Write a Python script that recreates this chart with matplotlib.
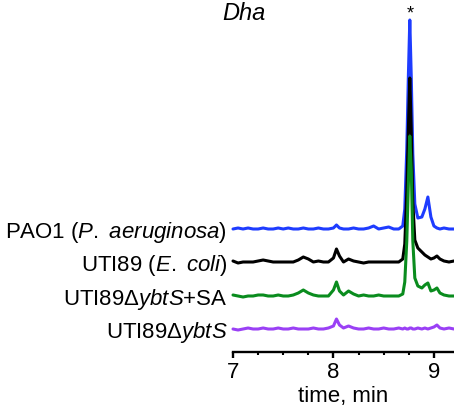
import matplotlib
matplotlib.use("Agg")
import matplotlib.pyplot as plt
from matplotlib.ticker import MultipleLocator

plt.rcParams['font.family'] = ['Liberation Sans', 'DejaVu Sans']
plt.rcParams['mathtext.fontset'] = 'custom'
plt.rcParams['mathtext.rm'] = 'Liberation Sans'
plt.rcParams['mathtext.it'] = 'Liberation Sans:italic'

# retention time (min)
time = [7.00, 7.05, 7.10, 7.15, 7.20, 7.25, 7.30, 7.35, 7.40, 7.45,
        7.50, 7.55, 7.60, 7.65, 7.70, 7.75, 7.80, 7.85, 7.90, 7.95,
        8.00, 8.03, 8.06, 8.10,
        8.15, 8.20, 8.25, 8.30, 8.35, 8.40, 8.45, 8.50, 8.55, 8.60, 8.65,
        8.69, 8.71, 8.73, 8.745, 8.76, 8.775, 8.79, 8.81,
        8.84, 8.88, 8.91, 8.94, 8.97, 9.00, 9.03, 9.06, 9.10, 9.15, 9.20]

# signal intensities (arbitrary units)
pao1 = [0, 1, 0, 1, 0, 0, 1, 0, 0, 1,
        0, 1, 0, 0, 1, 0, 0, 1, 0, 0,
        1, 4, 1, 0,
        0, 1, 0, 0, 1, 3, 0, 1, 2, 0, 0,
        3, 20, 80, 150, 209, 150, 75, 25,
        11, 12, 20, 32, 12, 3, 1, 0, 1, 0, 0]

uti89 = [1, -1, 0, 0, 0, 1, 2, 1, 0, 0,
         0, 0, 0, 2, 5, 3, 0, 1, 0, 0,
         4, 13, 6, 0,
         3, 1, 0, -1, 0, 0, 0, 0, 0, 0, 0,
         3, 18, 70, 130, 184, 130, 60, 22,
         14, 10, 7, 5, 3, 4, 6, 3, 1, 0, 1]

uti89_sa = [1, 0, -1, 0, 0, 1, 1, 0, 0, 1,
            0, 0, 1, 3, 6, 3, 1, 0, 0, 0,
            6, 14, 5, 1,
            5, 2, 0, 1, 0, 0, 1, 0, 0, 0, 0,
            2, 14, 55, 110, 160, 125, 55, 18,
            10, 8, 11, 13, 5, 6, 8, 3, 1, 0, 0]

uti89_ybts = [0, -1, 0, 1, 0, 0, 1, 0, 0, 1,
              0, 0, 1, 0, 0, 0, 1, 0, 0, 1,
              3, 10, 4, 1,
              3, 1, 0, 0, 1, 0, 0, 1, 0, 0, 1,
              0, 1, 0, 0, 1, 1, 0, 0,
              1, 0, 1, 0, 1, 2, 4, 1, 0, 1, 0]

labels = [r"PAO1 ($\mathit{P.}$ $\mathit{aeruginosa}$)",
          r"UTI89 ($\mathit{E.}$ $\mathit{coli}$)",
          r"UTI89$\Delta\mathit{ybtS}$+SA",
          r"UTI89$\Delta\mathit{ybtS}$"]
series = [pao1, uti89, uti89_sa, uti89_ybts]
colors = ["#1e3cff", "#000000", "#0a8c1e", "#9a40f5"]
offsets = [123, 90, 56, 23]

fig = plt.figure(figsize=(4.54, 4.13), dpi=100)
ax = fig.add_axes([233/454, 61/413, 221/454, 352/413])

for ys, c, off in zip(series, colors, offsets):
    ax.plot(time, [v + off for v in ys], color=c, lw=2.2, solid_joinstyle='round',
            solid_capstyle='round', clip_on=False)

ax.set_xlim(7, 9.2)
ax.set_ylim(0, 352)
ax.set_yticks(offsets)
ax.set_yticklabels(labels, fontsize=16)
ax.tick_params(axis='y', length=0, pad=4)

for s in ['top', 'right', 'left']:
    ax.spines[s].set_visible(False)
ax.spines['bottom'].set_linewidth(1.7)
ax.set_xticks([7, 8, 9])
ax.set_xticklabels(['7', '8', '9'], fontsize=16)
ax.xaxis.set_minor_locator(MultipleLocator(0.25))
ax.tick_params(axis='x', which='major', length=4, width=1.7, pad=3.5)
ax.tick_params(axis='x', which='minor', length=2.5, width=1.5)
ax.set_xlabel("time, min", fontsize=16, labelpad=2)

ax.text(8.76, 330, "*", ha='center', va='bottom', fontsize=13)
fig.text(244/454, 1 - 13/413, "Dha", style='italic', ha='center', va='center',
         fontsize=17)

fig.savefig("out.png", dpi=100)
